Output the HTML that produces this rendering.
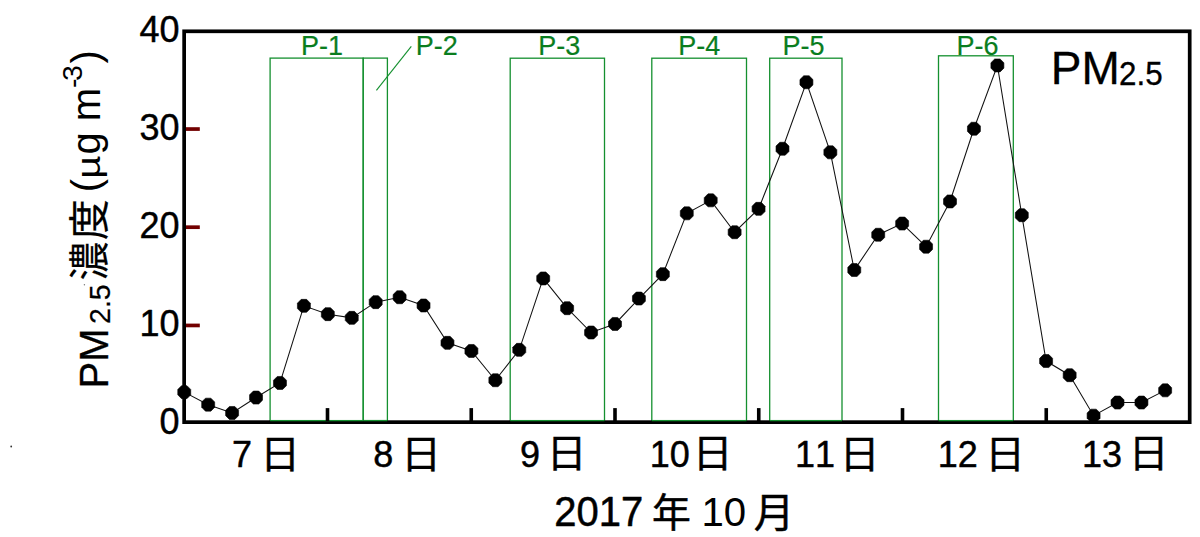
<!DOCTYPE html>
<html lang="ja"><head><meta charset="utf-8"><title>PM2.5</title><style>html,body{margin:0;padding:0;background:#fff}body{width:1200px;height:537px;overflow:hidden}</style></head><body>
<svg width="1200" height="537" viewBox="0 0 1200 537" style="display:block;font-family:'Liberation Sans','Noto Sans CJK JP',sans-serif">
<title>PM2.5 concentration (µg m-3), 7-13 October 2017, periods P-1 to P-6</title>
<rect width="1200" height="537" fill="#fff"/>
<g fill="none" stroke="#14902f" stroke-width="1.3">
<rect x="270.1" y="58.1" width="93.10" height="362.50"/>
<rect x="363.2" y="58.1" width="24.20" height="362.50"/>
<rect x="510.2" y="58.2" width="94.30" height="362.40"/>
<rect x="651.8" y="58.2" width="94.70" height="362.40"/>
<rect x="769.7" y="58.2" width="72.30" height="362.40"/>
<rect x="938.5" y="55.8" width="74.80" height="364.80"/>
</g>
<line x1="411.3" y1="46.3" x2="376.4" y2="90.3" stroke="#14902f" stroke-width="1.1"/>
<rect x="184.15" y="31.3" width="1005.55" height="390.85" fill="none" stroke="#000" stroke-width="3.7"/>
<line x1="270.1" y1="420.6" x2="363.2" y2="420.6" stroke="#14902f" stroke-width="1.3"/>
<line x1="363.2" y1="420.6" x2="387.4" y2="420.6" stroke="#14902f" stroke-width="1.3"/>
<line x1="510.2" y1="420.6" x2="604.5" y2="420.6" stroke="#14902f" stroke-width="1.3"/>
<line x1="651.8" y1="420.6" x2="746.5" y2="420.6" stroke="#14902f" stroke-width="1.3"/>
<line x1="769.7" y1="420.6" x2="842.0" y2="420.6" stroke="#14902f" stroke-width="1.3"/>
<line x1="938.5" y1="420.6" x2="1013.3" y2="420.6" stroke="#14902f" stroke-width="1.3"/>
<rect x="186" y="323.60" width="13.8" height="3.7" fill="#720000"/>
<rect x="186" y="225.35" width="13.8" height="3.7" fill="#720000"/>
<rect x="186" y="127.20" width="13.8" height="3.7" fill="#720000"/>
<rect x="325.70" y="408.1" width="3.6" height="13" fill="#000"/>
<rect x="469.45" y="408.1" width="3.6" height="13" fill="#000"/>
<rect x="613.20" y="408.1" width="3.6" height="13" fill="#000"/>
<rect x="756.95" y="408.1" width="3.6" height="13" fill="#000"/>
<rect x="900.70" y="408.1" width="3.6" height="13" fill="#000"/>
<rect x="1044.45" y="408.1" width="3.6" height="13" fill="#000"/>
<polyline fill="none" stroke="#111" stroke-width="1.05" points="184.25,392.15 208.18,404.65 232.11,412.95 256.04,397.55 279.97,382.95 303.90,305.85 327.83,314.15 351.76,317.85 375.69,302.15 399.62,297.25 423.55,305.50 447.48,342.85 471.41,350.95 495.34,380.25 519.27,349.85 543.20,278.45 567.13,308.20 591.06,332.50 614.99,323.95 638.92,298.55 662.85,274.15 686.78,213.35 710.71,200.35 734.64,232.25 758.57,208.85 782.50,148.75 806.43,82.25 830.36,152.35 854.29,270.05 878.22,234.75 902.15,223.55 926.08,246.70 950.01,201.45 973.94,128.75 997.40,65.45 1021.80,215.20 1046.10,361.05 1069.66,375.20 1093.59,415.65 1117.52,402.55 1141.45,402.55 1165.15,390.35"/>
<g fill="#000" stroke="#000" stroke-width="0.6" stroke-linejoin="round">
<polygon points="190.73,394.84 186.94,398.63 181.56,398.63 177.77,394.84 177.77,389.46 181.56,385.67 186.94,385.67 190.73,389.46"/>
<polygon points="214.66,407.34 210.87,411.13 205.49,411.13 201.70,407.34 201.70,401.96 205.49,398.17 210.87,398.17 214.66,401.96"/>
<polygon points="238.59,415.64 234.80,419.43 229.42,419.43 225.63,415.64 225.63,410.26 229.42,406.47 234.80,406.47 238.59,410.26"/>
<polygon points="262.52,400.24 258.73,404.03 253.35,404.03 249.56,400.24 249.56,394.86 253.35,391.07 258.73,391.07 262.52,394.86"/>
<polygon points="286.45,385.64 282.66,389.43 277.28,389.43 273.49,385.64 273.49,380.26 277.28,376.47 282.66,376.47 286.45,380.26"/>
<polygon points="310.38,308.54 306.59,312.33 301.21,312.33 297.42,308.54 297.42,303.16 301.21,299.37 306.59,299.37 310.38,303.16"/>
<polygon points="334.31,316.84 330.52,320.63 325.14,320.63 321.35,316.84 321.35,311.46 325.14,307.67 330.52,307.67 334.31,311.46"/>
<polygon points="358.24,320.54 354.45,324.33 349.07,324.33 345.28,320.54 345.28,315.16 349.07,311.37 354.45,311.37 358.24,315.16"/>
<polygon points="382.17,304.84 378.38,308.63 373.00,308.63 369.21,304.84 369.21,299.46 373.00,295.67 378.38,295.67 382.17,299.46"/>
<polygon points="406.10,299.94 402.31,303.73 396.93,303.73 393.14,299.94 393.14,294.56 396.93,290.77 402.31,290.77 406.10,294.56"/>
<polygon points="430.03,308.19 426.24,311.98 420.86,311.98 417.07,308.19 417.07,302.81 420.86,299.02 426.24,299.02 430.03,302.81"/>
<polygon points="453.96,345.54 450.17,349.33 444.79,349.33 441.00,345.54 441.00,340.16 444.79,336.37 450.17,336.37 453.96,340.16"/>
<polygon points="477.89,353.64 474.10,357.43 468.72,357.43 464.93,353.64 464.93,348.26 468.72,344.47 474.10,344.47 477.89,348.26"/>
<polygon points="501.82,382.94 498.03,386.73 492.65,386.73 488.86,382.94 488.86,377.56 492.65,373.77 498.03,373.77 501.82,377.56"/>
<polygon points="525.75,352.54 521.96,356.33 516.58,356.33 512.79,352.54 512.79,347.16 516.58,343.37 521.96,343.37 525.75,347.16"/>
<polygon points="549.68,281.14 545.89,284.93 540.51,284.93 536.72,281.14 536.72,275.76 540.51,271.97 545.89,271.97 549.68,275.76"/>
<polygon points="573.61,310.89 569.82,314.68 564.44,314.68 560.65,310.89 560.65,305.51 564.44,301.72 569.82,301.72 573.61,305.51"/>
<polygon points="597.54,335.19 593.75,338.98 588.37,338.98 584.58,335.19 584.58,329.81 588.37,326.02 593.75,326.02 597.54,329.81"/>
<polygon points="621.47,326.64 617.68,330.43 612.30,330.43 608.51,326.64 608.51,321.26 612.30,317.47 617.68,317.47 621.47,321.26"/>
<polygon points="645.40,301.24 641.61,305.03 636.23,305.03 632.44,301.24 632.44,295.86 636.23,292.07 641.61,292.07 645.40,295.86"/>
<polygon points="669.33,276.84 665.54,280.63 660.16,280.63 656.37,276.84 656.37,271.46 660.16,267.67 665.54,267.67 669.33,271.46"/>
<polygon points="693.26,216.04 689.47,219.83 684.09,219.83 680.30,216.04 680.30,210.66 684.09,206.87 689.47,206.87 693.26,210.66"/>
<polygon points="717.19,203.04 713.40,206.83 708.02,206.83 704.23,203.04 704.23,197.66 708.02,193.87 713.40,193.87 717.19,197.66"/>
<polygon points="741.12,234.94 737.33,238.73 731.95,238.73 728.16,234.94 728.16,229.56 731.95,225.77 737.33,225.77 741.12,229.56"/>
<polygon points="765.05,211.54 761.26,215.33 755.88,215.33 752.09,211.54 752.09,206.16 755.88,202.37 761.26,202.37 765.05,206.16"/>
<polygon points="788.98,151.44 785.19,155.23 779.81,155.23 776.02,151.44 776.02,146.06 779.81,142.27 785.19,142.27 788.98,146.06"/>
<polygon points="812.91,84.94 809.12,88.73 803.74,88.73 799.95,84.94 799.95,79.56 803.74,75.77 809.12,75.77 812.91,79.56"/>
<polygon points="836.84,155.04 833.05,158.83 827.67,158.83 823.88,155.04 823.88,149.66 827.67,145.87 833.05,145.87 836.84,149.66"/>
<polygon points="860.77,272.74 856.98,276.53 851.60,276.53 847.81,272.74 847.81,267.36 851.60,263.57 856.98,263.57 860.77,267.36"/>
<polygon points="884.70,237.44 880.91,241.23 875.53,241.23 871.74,237.44 871.74,232.06 875.53,228.27 880.91,228.27 884.70,232.06"/>
<polygon points="908.63,226.24 904.84,230.03 899.46,230.03 895.67,226.24 895.67,220.86 899.46,217.07 904.84,217.07 908.63,220.86"/>
<polygon points="932.56,249.39 928.77,253.18 923.39,253.18 919.60,249.39 919.60,244.01 923.39,240.22 928.77,240.22 932.56,244.01"/>
<polygon points="956.49,204.14 952.70,207.93 947.32,207.93 943.53,204.14 943.53,198.76 947.32,194.97 952.70,194.97 956.49,198.76"/>
<polygon points="980.42,131.44 976.63,135.23 971.25,135.23 967.46,131.44 967.46,126.06 971.25,122.27 976.63,122.27 980.42,126.06"/>
<polygon points="1003.88,68.14 1000.09,71.93 994.71,71.93 990.92,68.14 990.92,62.76 994.71,58.97 1000.09,58.97 1003.88,62.76"/>
<polygon points="1028.28,217.89 1024.49,221.68 1019.11,221.68 1015.32,217.89 1015.32,212.51 1019.11,208.72 1024.49,208.72 1028.28,212.51"/>
<polygon points="1052.58,363.74 1048.79,367.53 1043.41,367.53 1039.62,363.74 1039.62,358.36 1043.41,354.57 1048.79,354.57 1052.58,358.36"/>
<polygon points="1076.14,377.89 1072.35,381.68 1066.97,381.68 1063.18,377.89 1063.18,372.51 1066.97,368.72 1072.35,368.72 1076.14,372.51"/>
<polygon points="1100.07,418.34 1096.28,422.13 1090.90,422.13 1087.11,418.34 1087.11,412.96 1090.90,409.17 1096.28,409.17 1100.07,412.96"/>
<polygon points="1124.00,405.24 1120.21,409.03 1114.83,409.03 1111.04,405.24 1111.04,399.86 1114.83,396.07 1120.21,396.07 1124.00,399.86"/>
<polygon points="1147.93,405.24 1144.14,409.03 1138.76,409.03 1134.97,405.24 1134.97,399.86 1138.76,396.07 1144.14,396.07 1147.93,399.86"/>
<polygon points="1171.63,393.04 1167.84,396.83 1162.46,396.83 1158.67,393.04 1158.67,387.66 1162.46,383.87 1167.84,383.87 1171.63,387.66"/>
</g>
<g transform="translate(139.56,41.6)" fill="#000" stroke="#000" stroke-width="0.45" stroke-linejoin="round" aria-label="40"><text font-size="36" x="0.000 20.021" y="0">40</text></g>
<g transform="translate(139.56,139.6)" fill="#000" stroke="#000" stroke-width="0.45" stroke-linejoin="round" aria-label="30"><text font-size="36" x="0.000 20.021" y="0">30</text></g>
<g transform="translate(139.56,237.6)" fill="#000" stroke="#000" stroke-width="0.45" stroke-linejoin="round" aria-label="20"><text font-size="36" x="0.000 20.021" y="0">20</text></g>
<g transform="translate(139.56,335.6)" fill="#000" stroke="#000" stroke-width="0.45" stroke-linejoin="round" aria-label="10"><text font-size="36" x="0.000 20.021" y="0">10</text></g>
<g transform="translate(159.58,433.5)" fill="#000" stroke="#000" stroke-width="0.45" stroke-linejoin="round" aria-label="0"><text font-size="36" x="0.000" y="0">0</text></g>
<g transform="translate(231.9,467.2)" fill="#000" stroke="#000" stroke-width="0.45" stroke-linejoin="round" aria-label="7"><text font-size="36" x="0.000" y="0">7</text></g>
<text transform="translate(259.911,467.871) scale(1,0.957)" font-size="40.2" x="0" y="0" fill="#000" stroke="#000" stroke-width="0.4">日</text>
<g transform="translate(373.2,467.2)" fill="#000" stroke="#000" stroke-width="0.45" stroke-linejoin="round" aria-label="8"><text font-size="36" x="0.000" y="0">8</text></g>
<text transform="translate(401.011,467.771) scale(1,0.957)" font-size="40.2" x="0" y="0" fill="#000" stroke="#000" stroke-width="0.4">日</text>
<g transform="translate(520.1,467.2)" fill="#000" stroke="#000" stroke-width="0.45" stroke-linejoin="round" aria-label="9"><text font-size="36" x="0.000" y="0">9</text></g>
<text transform="translate(546.611,466.571) scale(1,0.957)" font-size="40.2" x="0" y="0" fill="#000" stroke="#000" stroke-width="0.4">日</text>
<g transform="translate(649.7,467.2)" fill="#000" stroke="#000" stroke-width="0.45" stroke-linejoin="round" aria-label="10"><text font-size="36" x="0.000 20.021" y="0">10</text></g>
<text transform="translate(692.611,466.571) scale(1,0.957)" font-size="40.2" x="0" y="0" fill="#000" stroke="#000" stroke-width="0.4">日</text>
<g transform="translate(795.1,467.2)" fill="#000" stroke="#000" stroke-width="0.45" stroke-linejoin="round" aria-label="11"><text font-size="36" x="0.000 20.021" y="0">11</text></g>
<text transform="translate(839.411,467.771) scale(1,0.957)" font-size="40.2" x="0" y="0" fill="#000" stroke="#000" stroke-width="0.4">日</text>
<g transform="translate(937.7,467.2)" fill="#000" stroke="#000" stroke-width="0.45" stroke-linejoin="round" aria-label="12"><text font-size="36" x="0.000 20.021" y="0">12</text></g>
<text transform="translate(985.011,467.771) scale(1,0.957)" font-size="40.2" x="0" y="0" fill="#000" stroke="#000" stroke-width="0.4">日</text>
<g transform="translate(1082.1,467.2)" fill="#000" stroke="#000" stroke-width="0.45" stroke-linejoin="round" aria-label="13"><text font-size="36" x="0.000 20.021" y="0">13</text></g>
<text transform="translate(1128.611,466.571) scale(1,0.957)" font-size="40.2" x="0" y="0" fill="#000" stroke="#000" stroke-width="0.4">日</text>
<g transform="translate(554.3,526.0) scale(1.0,1.055)" fill="#000" stroke="#000" stroke-width="0.5" stroke-linejoin="round" aria-label="2017"><text font-size="40" x="0.000 22.246 44.492 66.738" y="0">2017</text></g>
<text transform="translate(652.086,527.428) scale(1,1.0215)" font-size="38.87" x="0" y="0" fill="#000" stroke="#000" stroke-width="0.5">年</text>
<text transform="translate(753.769,527.277) scale(1,0.974)" font-size="40.7" x="0" y="0" fill="#000" stroke="#000" stroke-width="0.5">月</text>
<text font-size="40.2" x="701.5 723.7" y="526.3" fill="#000">10</text>
<g transform="translate(1050.8,84.45) scale(1.0,1.02)" fill="#000" stroke="#000" stroke-width="0.3" stroke-linejoin="round" aria-label="PM"><text font-size="46" x="0.000 30.682" y="0">PM</text></g>
<g transform="translate(1119.0,84.6) scale(1.0,1.03)" fill="#000" stroke="#000" stroke-width="0.3" stroke-linejoin="round" aria-label="2.5"><text font-size="31.4" x="0.000 17.463 26.187" y="0">2.5</text></g>
<g transform="translate(301.1,55.0)" fill="#0a7d1e" stroke="#0a7d1e" stroke-width="0.2" stroke-linejoin="round" aria-label="P-1"><text font-size="27" x="0.000 18.009 27.000" y="0">P-1</text></g>
<g transform="translate(415.7,55.0)" fill="#0a7d1e" stroke="#0a7d1e" stroke-width="0.2" stroke-linejoin="round" aria-label="P-2"><text font-size="27" x="0.000 18.009 27.000" y="0">P-2</text></g>
<g transform="translate(538.2,55.0)" fill="#0a7d1e" stroke="#0a7d1e" stroke-width="0.2" stroke-linejoin="round" aria-label="P-3"><text font-size="27" x="0.000 18.009 27.000" y="0">P-3</text></g>
<g transform="translate(678.2,55.0)" fill="#0a7d1e" stroke="#0a7d1e" stroke-width="0.2" stroke-linejoin="round" aria-label="P-4"><text font-size="27" x="0.000 18.009 27.000" y="0">P-4</text></g>
<g transform="translate(782.5,55.0)" fill="#0a7d1e" stroke="#0a7d1e" stroke-width="0.2" stroke-linejoin="round" aria-label="P-5"><text font-size="27" x="0.000 18.009 27.000" y="0">P-5</text></g>
<g transform="translate(956.4,55.0)" fill="#0a7d1e" stroke="#0a7d1e" stroke-width="0.2" stroke-linejoin="round" aria-label="P-6"><text font-size="27" x="0.000 18.009 27.000" y="0">P-6</text></g>
<g transform="translate(107.6,388.4) rotate(-90) scale(1.0,1.03)" fill="#000" stroke="#000" stroke-width="0.3" stroke-linejoin="round" aria-label="PM"><text font-size="40" x="0.000 26.680" y="0">PM</text></g>
<g transform="translate(110.1,323.9) rotate(-90) scale(1.0,1.04)" fill="#000" stroke="#000" stroke-width="0.2" stroke-linejoin="round" aria-label="2.5"><text font-size="28.5" x="0.000 15.850 23.769" y="0">2.5</text></g>
<text transform="translate(104.005,280.532) rotate(-90) scale(1,1.0567)" font-size="38.82" x="0" y="0" fill="#000" stroke="#000" stroke-width="0.2">濃</text>
<text transform="translate(104.078,240.279) rotate(-90) scale(1,0.9988)" font-size="41.16" x="0" y="0" fill="#000" stroke="#000" stroke-width="0.2">度</text>
<g transform="translate(100.3,192.3) rotate(-90)" fill="#000" aria-label="("><text font-size="40" x="0.000" y="0">(</text></g>
<g transform="translate(100.3,178.7) rotate(-90) scale(1.0,0.82)" fill="#000" aria-label="µ"><text font-size="40" x="0.000" y="0">µ</text></g>
<g transform="translate(100.3,154.5) rotate(-90)" fill="#000" aria-label="g m"><text font-size="40" x="0.000 33.359" y="0">gm</text></g>
<g transform="translate(81.9,88.0) rotate(-90)" fill="#000" aria-label="-"><text font-size="28.5" x="0.000" y="0">-</text></g>
<g transform="translate(81.9,80.9) rotate(-90)" fill="#000" aria-label="3"><text font-size="28.5" x="0.000" y="0">3</text></g>
<g transform="translate(100.3,63.6) rotate(-90)" fill="#000" aria-label=")"><text font-size="40" x="0.000" y="0">)</text></g>
<circle cx="11.2" cy="446.5" r="0.9" fill="#333"/>
<circle cx="84.4" cy="284.8" r="0.7" fill="#777"/>
</svg>
</body></html>
